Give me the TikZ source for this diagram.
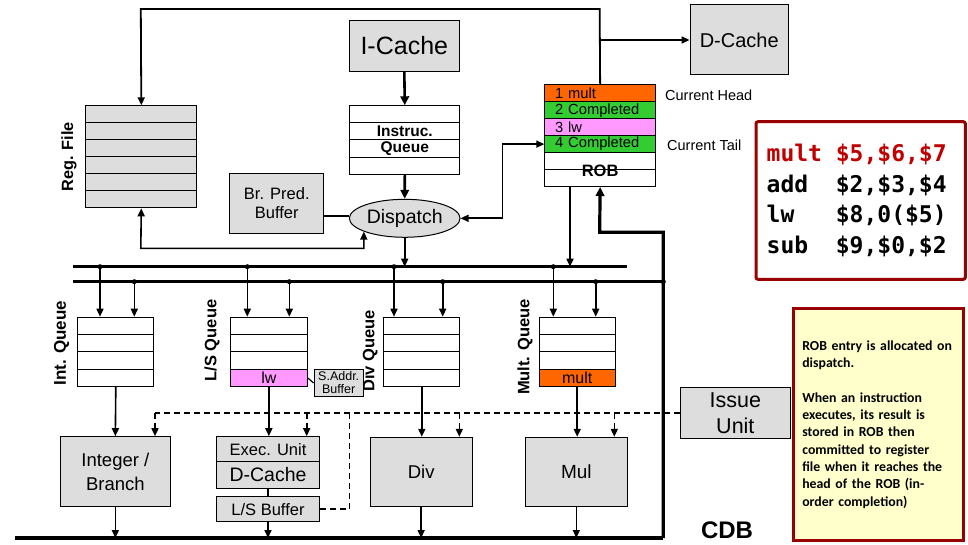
\documentclass[tikz,border=0pt]{standalone}
\usepackage{fontspec}
\setmainfont{Liberation Sans}
\newfontfamily\notefont{Carlito}
\newfontfamily\codefont{DejaVu Sans Mono}
\usetikzlibrary{arrows.meta,shapes.geometric,calc}
\definecolor{boxgray}{HTML}{DDDDDD}
\definecolor{robor}{HTML}{FF6600}
\definecolor{robgr}{HTML}{33CC33}
\definecolor{robpk}{HTML}{FF99FF}
\definecolor{darkred}{HTML}{990000}
\definecolor{codered}{HTML}{C00000}
\definecolor{noteyel}{HTML}{FFFFCC}
\newcommand{\cw}[1]{\makebox[3.01em][l]{#1}}
\begin{document}
\begin{tikzpicture}[x=1pt,y=-1pt,
  unit/.style={draw, fill=boxgray, line width=1pt, inner sep=0pt, align=center},
  rowbox/.style={draw, line width=1pt, inner sep=0pt, minimum height=17pt, anchor=north west},
  qrow/.style={rowbox, minimum width=76pt, minimum height=17.33pt},
  robrow/.style={rowbox, minimum height=16.95pt, text width=90pt, inner xsep=10.35pt, align=left, font=\fontsize{14.7}{16}\selectfont},
  ar/.style={-{Triangle[length=8pt,width=7pt]}, line width=1.6pt},
  arboth/.style={{Triangle[length=8pt,width=7pt]}-{Triangle[length=8pt,width=7pt]}, line width=1.6pt},
  arthick/.style={-{Triangle[length=9pt,width=8.5pt]}, line width=2.6pt},
  dashln/.style={line width=1.6pt, dash pattern=on 6pt off 4pt},
  dashar/.style={dashln, -{Triangle[length=8pt,width=7pt]}},
  qlab/.style={rotate=90, font=\bfseries\fontsize{16.5}{18}\selectfont},
  bus/.style={line width=2.8pt},
  dot/.style={circle, fill, inner sep=0pt, minimum size=5pt}
]
\useasboundingbox (0,0) rectangle (968,545);

% ---------- Register file ----------
\foreach \i in {0,...,5}
  \node[rowbox, fill=boxgray, minimum width=111pt] (rf\i) at (85.3,{105.3+17*\i}) {};
\node[qlab, font=\bfseries\fontsize{16.3}{18}\selectfont] (rflab) at (69,157) {Reg. File};

% ---------- I-Cache and instruction queue ----------
\node[unit, minimum width=110pt, minimum height=50.6pt, font=\fontsize{25}{28}\selectfont] (ic) at (404.3,46) {I-Cache};
\node[rowbox, minimum width=110pt, minimum height=17.1pt] (insq0) at (349.3,105.3) {};
\node[rowbox, minimum width=110pt, minimum height=17.1pt, font=\bfseries\fontsize{15.5}{17}\selectfont] (insq1) at (349.3,122.4) {Instruc.};
\node[rowbox, minimum width=110pt, minimum height=17.1pt, font=\bfseries\fontsize{15.5}{17}\selectfont] (insq2) at (349.3,139.5) {Queue};
\node[rowbox, minimum width=110pt, minimum height=17.1pt] (insq3) at (349.3,156.6) {};

% ---------- Dispatch / branch prediction ----------
\node[draw, ellipse, fill=boxgray, minimum width=110.7pt, minimum height=38pt, inner sep=0pt, line width=1pt, font=\fontsize{19.5}{22}\selectfont] (dsp) at (404.7,218.3) {Dispatch};
\node[unit, minimum width=93.7pt, minimum height=60pt, font=\fontsize{16.5}{19}\selectfont] (bp) at (276.8,203.3) {Br. Pred.\\Buffer};

% ---------- ROB ----------
\node[robrow, fill=robor] (rob0) at (544.3,84.3) {1 mult};
\node[robrow, fill=robgr] (rob1) at (544.3,101.25) {2 Completed};
\node[robrow, fill=robpk] (rob2) at (544.3,118.2) {3 lw};
\node[robrow, fill=robgr] (rob3) at (544.3,135.15) {4 Completed};
\node[robrow, fill=white] (rob4) at (544.3,152.1) {};
\node[robrow, fill=white] (rob5) at (544.3,169.05) {};
\node[font=\bfseries\fontsize{16.5}{18}\selectfont, inner sep=0pt] (roblab) at ($(rob4.south)+(0,1)$) {ROB};
\node[anchor=west, inner sep=0pt, font=\fontsize{14.5}{16}\selectfont] (chead) at (665,95) {Current Head};
\node[anchor=west, inner sep=0pt, font=\fontsize{14.5}{16}\selectfont] (ctail) at (667,145) {Current Tail};

% ---------- D-Cache ----------
\node[unit, minimum width=98.3pt, minimum height=70pt, font=\fontsize{20}{22}\selectfont] (dc) at (739.2,40) {D-Cache};

% ---------- Code box ----------
\node[draw=darkred, line width=3pt, rounded corners=2pt, fill=white, minimum width=209.3pt, minimum height=157.6pt, text width=188pt, inner xsep=10.65pt, align=left, font=\codefont\bfseries\fontsize{23}{30.7}\selectfont] (code) at (860.65,200.5)
  {\textcolor{codered}{\cw{mult}\$5,\$6,\$7}\\\cw{add}\$2,\$3,\$4\\\cw{lw}\$8,0(\$5)\\\cw{sub}\$9,\$0,\$2};

% ---------- Top connections ----------
\coordinate (tl) at (140.8,9);
\coordinate (tr) at (599.65,9);
\coordinate (dj) at (599.65,40);
\draw[ar, line width=1.8pt] (rob0.north) -- (tr) -- (tl) -- (rf0.north);
\draw[ar] (dj) -- (dc.west);
\draw[arthick] (ic.south) -- (insq0.north);
\draw[arthick] (insq3.south) -- (dsp.north);
\draw[line width=2.6pt] (bp.east |- 0,216) -- (dsp.west |- 0,216);
\coordinate (rfd) at (140.8,248.3);
\draw[arboth] (rf5.south) -- (rfd) -| (dsp.198);
\draw[arboth] (dsp.east) -- ++(42,0) |- (rob3.west);

% ---------- Buses ----------
\coordinate (b1L) at (73.3,266.7);
\coordinate (b1R) at (626.7,266.7);
\coordinate (b2L) at (73.3,281.7);
\coordinate (b2R) at (663.3,281.7);
\draw[bus] (b1L) -- (b1R);
\draw[bus] (b2L) -- (b2R);
\draw[ar] (dsp.south) -- (dsp.south |- b1L);
\coordinate (robd) at (570,186.3);
\draw[ar] (robd) -- (robd |- b1L);

% ---------- Queues ----------
\foreach \i in {0,...,3} \node[qrow] (intq\i) at (77.3,{316.7+17.33*\i}) {};
\foreach \i in {0,...,2} \node[qrow, minimum width=76.7pt] (lsq\i) at (230,{316.7+17.33*\i}) {};
\node[qrow, minimum width=76.7pt, fill=robpk, font=\fontsize{16}{18}\selectfont] (lsq3) at (230,368.69) {lw};
\foreach \i in {0,...,3} \node[qrow] (divq\i) at (383.3,{316.7+17.33*\i}) {};
\foreach \i in {0,...,2} \node[qrow] (mulq\i) at (538.7,{316.7+17.33*\i}) {};
\node[qrow, fill=robor, font=\fontsize{16}{18}\selectfont] (mulq3) at (538.7,368.69) {mult};

\node[qlab, font=\bfseries\fontsize{17}{18}\selectfont] (intlab) at (61.7,343.3) {Int. Queue};
\node[qlab] (lslab) at (212,340.5) {L/S Queue};
\node[qlab] (divlab) at (370,350.8) {Div Queue};
\node[qlab] (mullab) at (525,347) {Mult. Queue};

\node[unit, minimum width=49.3pt, minimum height=27.4pt, font=\fontsize{12.5}{13}\selectfont] (sab) at (338.7,383) {S.Addr.\\Buffer};
\draw[line width=1.2pt] (lsq3.east) -- (sab.west);

% taps from buses
\foreach \n/\x/\y in {t1/100/266.7, t2/134.3/281.7, t3/247.3/266.7, t4/289.3/281.7, t5/394/266.7, t6/442.7/281.7, t7/553.3/266.7, t8/595.7/281.7}
  \coordinate (\n) at (\x,\y);
\draw[ar] (t1) -- (t1 |- intq0.north);
\draw[ar] (t2) -- (t2 |- intq0.north);
\draw[ar] (t3) -- (t3 |- lsq0.north);
\draw[ar] (t4) -- (t4 |- lsq0.north);
\draw[ar] (t5) -- (t5 |- divq0.north);
\draw[ar] (t6) -- (t6 |- divq0.north);
\draw[ar] (t7) -- (t7 |- mulq0.north);
\draw[ar] (t8) -- (t8 |- mulq0.north);
\foreach \n in {t1,t2,t3,t4,t5,t6,t7,t8,b2R} \node[dot] at (\n) {};

% ---------- Functional units ----------
\node[unit, minimum width=110.7pt, minimum height=70pt, font=\fontsize{18.5}{24}\selectfont] (ib) at (115.35,471.7) {Integer /\\Branch};
\node[unit, minimum width=102.6pt, minimum height=25pt, font=\fontsize{16.5}{18}\selectfont] (eu) at (268,449.2) {Exec. Unit};
\node[unit, minimum width=102.6pt, minimum height=26.6pt, font=\fontsize{19.5}{22}\selectfont] (dc2) at (268,475) {D-Cache};
\node[unit, minimum width=102.6pt, minimum height=25pt, font=\fontsize{16.5}{18}\selectfont] (lsb) at (268,509.2) {L/S Buffer};
\node[unit, minimum width=102.3pt, minimum height=69.4pt, font=\fontsize{18.5}{22}\selectfont] (dv) at (421.15,472) {Div};
\node[unit, minimum width=102pt, minimum height=69.4pt, font=\fontsize{19}{22}\selectfont] (ml) at (576.3,472) {Mul};
\node[unit, minimum width=110.7pt, minimum height=51pt, font=\fontsize{21.5}{26}\selectfont] (iu) at (735.35,412.8) {Issue\\Unit};

\draw[ar] (intq3.south) -- (ib.north);
\draw[ar] (lsq3.south) -- (lsq3.south |- eu.north);
\draw[line width=1.6pt] (dc2.south) -- (lsb.north);
\draw[ar] (divq3.south) -- (divq3.south |- dv.north);
\draw[ar] (mulq3.south) -- (mulq3.south |- ml.north);

% ---------- CDB ----------
\coordinate (cdbL) at (15,538);
\coordinate (cdbR) at (663.3,538);
\coordinate (rr) at (599.65,232.3);
\draw[line width=3.2pt] (cdbL) -- (cdbR);
\draw[arthick, line width=3.2pt] (cdbR) |- (rr) -- (rob5.south);
\draw[ar] (ib.south) -- (ib.south |- cdbL);
\draw[ar] (lsb.south) -- (lsb.south |- cdbL);
\draw[ar] (dv.south) -- (dv.south |- cdbL);
\draw[ar] (ml.south) -- (ml.south |- cdbL);
\node[font=\bfseries\fontsize{24}{26}\selectfont, inner sep=0pt] (cdb) at (727,530) {CDB};

% ---------- Issue control (dashed) ----------
\coordinate (d1) at (155,412.8);
\coordinate (d2) at (306.7,412.8);
\coordinate (d3) at (459.3,412.8);
\coordinate (d4) at (614.3,412.8);
\coordinate (dj2) at (349.3,412.8);
\draw[dashln] (iu.west) -- (d1);
\draw[dashar] (d1) -- (d1 |- ib.north);
\draw[dashar] (d2) -- (d2 |- eu.north);
\draw[dashar] (d3) -- (d3 |- dv.north);
\draw[dashar] (d4) -- (d4 |- ml.north);
\draw[dashln] (lsb.east) -| (dj2);

% ---------- Note ----------
\node[draw=darkred, line width=3pt, fill=noteyel, minimum width=170pt, minimum height=232.4pt, text width=152pt, inner xsep=9pt, align=left, font=\notefont\bfseries\fontsize{13.8}{17.3}\selectfont] (note) at (878.3,424.5)
  {ROB entry is allocated on\\dispatch.\\[17.3pt]When an instruction\\executes, its result is\\stored in ROB then\\committed to register\\file when it reaches the\\head of the ROB (in-\\order completion)};
\end{tikzpicture}
\end{document}
